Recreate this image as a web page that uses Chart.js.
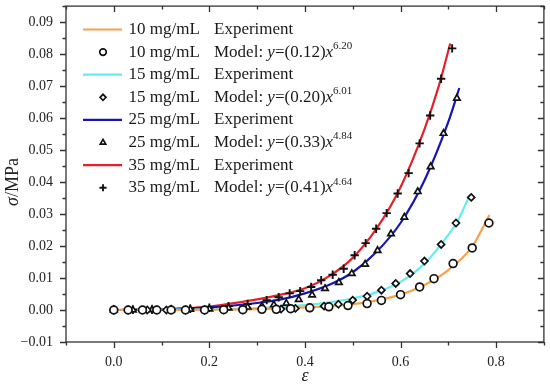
<!DOCTYPE html>
<html lang="en">
<head>
<meta charset="UTF-8">
<title>Stress vs strain</title>
<script src="https://cdn.jsdelivr.net/npm/chart.js@4.4.1/dist/chart.umd.min.js"></script>
<style>
  html, body { margin: 0; padding: 0; background: #fff; }
</style>
</head>
<body>
<canvas id="chart" width="550" height="385"></canvas>
<script>
// legend text
const concentrations = ['10 mg/mL', '15 mg/mL', '25 mg/mL', '35 mg/mL'];
const coefficients = ['0.12', '0.20', '0.33', '0.41'];
const exponents = ['6.20', '6.01', '4.84', '4.64'];
const colors = ['#f5a24c', '#62eeee', '#1616b2', '#e0222a'];
const markerStyles = ['circle', 'rectRot', 'triangle', 'cross'];

// axis ticks
const xTickValues = [0, 0.2, 0.4, 0.6, 0.8];
const yTickValues = [-0.01, 0, 0.01, 0.02, 0.03, 0.04, 0.05, 0.06, 0.07, 0.08, 0.09];

// experiment curves
const exp10X = [0, 0.1, 0.2, 0.3, 0.4, 0.45, 0.5, 0.55, 0.6, 0.65, 0.7, 0.75, 0.786];
const exp10Y = [0, 0.0000, 0.0001, 0.0003, 0.0008, 0.0012, 0.0018, 0.003, 0.0048, 0.0078, 0.0125, 0.0198, 0.0297];
const exp15X = [0, 0.1, 0.2, 0.3, 0.4, 0.45, 0.5, 0.55, 0.6, 0.65, 0.7, 0.72, 0.745];
const exp15Y = [0, 0.0001, 0.0002, 0.0006, 0.0015, 0.0024, 0.0036, 0.0056, 0.0088, 0.0145, 0.0235, 0.028, 0.036];
const exp25X = [0, 0.1, 0.2, 0.3, 0.35, 0.4, 0.45, 0.5, 0.55, 0.6, 0.65, 0.7, 0.723];
const exp25Y = [0, 0.0002, 0.0008, 0.0022, 0.0033, 0.0052, 0.0078, 0.0118, 0.0182, 0.0272, 0.0405, 0.0588, 0.0694];
const exp35X = [0, 0.1, 0.2, 0.3, 0.35, 0.4, 0.45, 0.5, 0.55, 0.6, 0.65, 0.68, 0.704];
const exp35Y = [0, 0.0002, 0.0011, 0.0033, 0.0048, 0.0068, 0.0105, 0.0163, 0.0255, 0.0384, 0.0565, 0.0700, 0.0833];

// model points
const mod10X = [0, 0.03, 0.06, 0.09, 0.12, 0.15, 0.19, 0.23, 0.27, 0.31, 0.34, 0.37, 0.41, 0.45, 0.49, 0.53, 0.56, 0.60, 0.64, 0.67, 0.71, 0.75, 0.785];
const mod10Y = [0, 0, 0, 0, 0, 0, 0, 0.0001, 0.0001, 0.0002, 0.0002, 0.0004, 0.0007, 0.001, 0.0014, 0.002, 0.003, 0.0048, 0.0072, 0.0098, 0.0145, 0.0194, 0.0272];
const mod15X = [0, 0.03, 0.07, 0.11, 0.15, 0.19, 0.23, 0.27, 0.31, 0.35, 0.38, 0.41, 0.44, 0.47, 0.50, 0.53, 0.56, 0.59, 0.62, 0.65, 0.685, 0.716, 0.748];
const mod15Y = [0, 0, 0, 0, 0, 0, 0.0001, 0.0001, 0.0002, 0.0003, 0.0005, 0.0007, 0.0012, 0.0018, 0.0031, 0.0043, 0.0062, 0.0083, 0.0114, 0.0153, 0.0205, 0.0272, 0.0352];
const mod25X = [0, 0.04, 0.08, 0.12, 0.16, 0.2, 0.24, 0.28, 0.31, 0.335, 0.361, 0.387, 0.415, 0.442, 0.471, 0.498, 0.526, 0.552, 0.58, 0.608, 0.636, 0.663, 0.69, 0.718];
const mod25Y = [0, 0, 0.0001, 0.0001, 0.0002, 0.0003, 0.0006, 0.0009, 0.0012, 0.0016, 0.0021, 0.0033, 0.0047, 0.0067, 0.0086, 0.0114, 0.0143, 0.0186, 0.0238, 0.029, 0.037, 0.0448, 0.0552, 0.0662];
const mod35X = [0, 0.04, 0.08, 0.12, 0.16, 0.2, 0.24, 0.28, 0.32, 0.345, 0.368, 0.39, 0.413, 0.434, 0.458, 0.481, 0.504, 0.527, 0.549, 0.571, 0.594, 0.617, 0.64, 0.662, 0.685, 0.708];
const mod35Y = [0, 0.0001, 0.0001, 0.0002, 0.0004, 0.0007, 0.0012, 0.0019, 0.0031, 0.004, 0.0052, 0.0059, 0.0072, 0.0093, 0.011, 0.0129, 0.0171, 0.0209, 0.0254, 0.0303, 0.0364, 0.0428, 0.0521, 0.0608, 0.0723, 0.0818];

const SERIF = '"Liberation Serif", "Times New Roman", serif';
Chart.defaults.font.family = SERIF;
Chart.defaults.color = '#222';

const toXY = (xs, ys) => xs.map((x, i) => ({ x: x, y: ys[i] }));

const expData = [toXY(exp10X, exp10Y), toXY(exp15X, exp15Y), toXY(exp25X, exp25Y), toXY(exp35X, exp35Y)];
const modData = [toXY(mod10X, mod10Y), toXY(mod15X, mod15Y), toXY(mod25X, mod25Y), toXY(mod35X, mod35Y)];

function markerOpts(i) {
    const style = markerStyles[i];
    return {
        pointStyle: style,
        radius: style === 'cross' ? 4.2 : (style === 'rectRot' ? 3.5 : (style === 'circle' ? 3.9 : 3.7)),
        borderWidth: style === 'cross' ? 1.9 : 1.7
    };
}

const datasets = [];
for (let i = 0; i < 4; i++) {
    datasets.push({
        label: concentrations[i] + ' Experiment',
        data: expData[i],
        showLine: true,
        borderColor: colors[i],
        borderWidth: 2.2,
        pointRadius: 0,
        cubicInterpolationMode: 'monotone',
        order: 1
    });
    const m = markerOpts(i);
    datasets.push({
        label: concentrations[i] + ' Model',
        data: modData[i],
        showLine: false,
        pointStyle: m.pointStyle,
        pointRadius: m.radius,
        pointBorderWidth: m.borderWidth,
        pointBorderColor: '#111',
        pointBackgroundColor: '#fff',
        order: 0
    });
}

// frame with ticks on all four sides, plus the y title
const framePlugin = {
    id: 'frame',
    afterDraw(chart) {
        const { ctx, chartArea: a, scales: { x, y } } = chart;
        ctx.save();
        ctx.strokeStyle = '#333';
        ctx.lineWidth = 1.3;
        ctx.strokeRect(a.left, a.top, a.right - a.left, a.bottom - a.top);
        ctx.beginPath();
        for (let v = -0.1; v <= 0.9001; v += 0.1) {
            const p = Math.round(x.getPixelForValue(v)) + 0.5;
            const major = Math.abs(Math.round(v * 10) % 2) === 0;
            const len = major ? 6 : 3.5;
            ctx.moveTo(p, a.bottom); ctx.lineTo(p, a.bottom + len);
            ctx.moveTo(p, a.top); ctx.lineTo(p, a.top + len);
        }
        for (let k = -2; k <= 19; k++) {
            const v = k * 0.005;
            const p = Math.round(y.getPixelForValue(v)) + 0.5;
            const len = k % 2 === 0 ? 6 : 3.5;
            ctx.moveTo(a.left, p); ctx.lineTo(a.left - len, p);
            ctx.moveTo(a.right, p); ctx.lineTo(a.right - len, p);
        }
        ctx.stroke();

        // y axis title: italic sigma then /MPa
        ctx.translate(13, (a.top + a.bottom) / 2 + 8);
        ctx.rotate(-Math.PI / 2);
        ctx.fillStyle = '#222';
        ctx.textBaseline = 'middle';
        const f1 = 'italic 18px ' + SERIF;
        const f2 = '18px ' + SERIF;
        ctx.font = f1;
        const w1 = ctx.measureText('σ').width;
        ctx.font = f2;
        const w2 = ctx.measureText('/MPa').width;
        let cx = -(w1 + w2) / 2;
        ctx.font = f1;
        ctx.fillText('σ', cx, 0);
        ctx.font = f2;
        ctx.fillText('/MPa', cx + w1, 0);
        ctx.restore();
    }
};

// legend drawn inside the plot area
const legendPlugin = {
    id: 'innerLegend',
    afterDatasetsDraw(chart) {
        const ctx = chart.ctx;
        const rowY0 = 29.5, rowStep = 22.6;
        const lineX0 = 83, lineX1 = 122, markX = 103;
        const concX = 128.5, textX = 214;
        const base = '17px ' + SERIF, ital = 'italic 17px ' + SERIF, sup = '11px ' + SERIF;
        ctx.save();
        ctx.textBaseline = 'middle';
        ctx.fillStyle = '#1a1a1a';
        for (let i = 0; i < 4; i++) {
            let ry = rowY0 + rowStep * 2 * i;
            ctx.strokeStyle = colors[i];
            ctx.lineWidth = 2.2;
            ctx.beginPath();
            ctx.moveTo(lineX0, ry); ctx.lineTo(lineX1, ry);
            ctx.stroke();
            ctx.font = base;
            ctx.fillText(concentrations[i], concX, ry);
            ctx.fillText('Experiment', textX, ry);

            ry += rowStep;
            const m = markerOpts(i);
            ctx.strokeStyle = '#111';
            ctx.fillStyle = '#fff';
            ctx.lineWidth = m.borderWidth;
            Chart.helpers.drawPoint(ctx, { pointStyle: m.pointStyle, radius: m.radius * 0.85, borderWidth: m.borderWidth, rotation: 0 }, markX, ry);
            ctx.fillStyle = '#1a1a1a';
            ctx.font = base;
            ctx.fillText(concentrations[i], concX, ry);
            let cx = textX;
            const parts = [
                ['Model: ', base, 0], ['y', ital, 0], ['=(' + coefficients[i] + ')', base, 0],
                ['x', ital, 0], [exponents[i], sup, -6]
            ];
            parts.forEach(([t, f, dy]) => {
                ctx.font = f;
                ctx.fillText(t, cx, ry + dy);
                cx += ctx.measureText(t).width;
            });
        }
        ctx.restore();
    }
};

new Chart(document.getElementById('chart'), {
    type: 'scatter',
    data: { datasets: datasets },
    options: {
        responsive: false,
        animation: false,
        layout: { padding: { top: 3, right: 5, left: 0, bottom: 0 } },
        plugins: { legend: { display: false }, tooltip: { enabled: false } },
        scales: {
            x: {
                type: 'linear',
                min: -0.1,
                max: 0.9,
                grid: { display: false, drawTicks: false },
                border: { display: false },
                afterBuildTicks: s => { s.ticks = xTickValues.map(v => ({ value: v })); },
                afterFit: s => { s.height = 43; s.paddingLeft = 0; s.paddingRight = 0; },
                ticks: {
                    padding: 12,
                    font: { size: 14 },
                    color: '#222',
                    maxRotation: 0,
                    callback: v => v.toFixed(1)
                },
                title: { display: true, text: 'ε', font: { size: 18, style: 'italic' }, padding: { top: 0, bottom: -2 }, color: '#222' }
            },
            y: {
                type: 'linear',
                min: -0.01,
                max: 0.095,
                grid: { display: false, drawTicks: false },
                border: { display: false },
                afterBuildTicks: s => { s.ticks = yTickValues.map(v => ({ value: v })); },
                afterFit: s => { s.width = 66; s.paddingTop = 0; s.paddingBottom = 0; },
                ticks: {
                    padding: 13,
                    font: { size: 14 },
                    color: '#222',
                    callback: v => (v < 0 ? '\u2212' : '') + Math.abs(v).toFixed(2)
                }
            }
        }
    },
    plugins: [legendPlugin, framePlugin]
});
</script>
</body>
</html>
